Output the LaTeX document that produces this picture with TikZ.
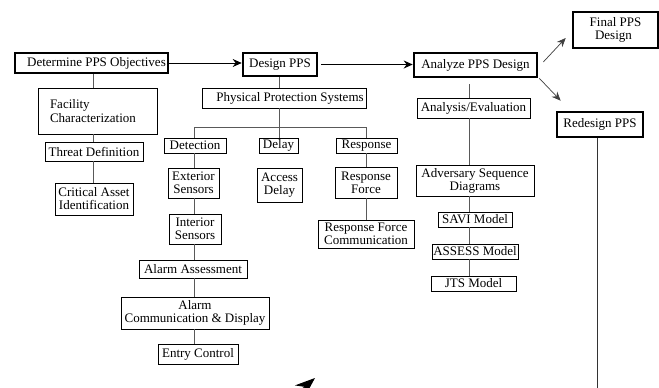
\documentclass[tikz,border=0pt]{standalone}
\usepackage{fontspec}
\setmainfont{Liberation Serif}
\usetikzlibrary{arrows.meta}
\begin{document}
\begin{tikzpicture}[x=1pt,y=-1pt,
  box/.style={draw=black, line width=0.8pt, inner sep=1pt, align=center,
    font=\fontsize{13}{13}\selectfont, anchor=center},
  bigbox/.style={box, line width=2.6pt},
  conn/.style={draw=black!65, line width=0.9pt},
  arr/.style={draw=black, line width=0.9pt, -{Stealth[length=9pt,width=8pt]}},
  darr/.style={draw=black!75, line width=0.7pt, -{Stealth[length=9pt,width=7.5pt]}}]
\clip (0,0) rectangle (659,388);
\fill[white] (0,0) rectangle (659,388);

% main row
\node[bigbox, minimum width=153, minimum height=20] (det) at (91.5,63) {\hspace*{10pt}Determine PPS Objectives};
\node[bigbox, minimum width=74, minimum height=23] (des) at (280,64.5) {Design PPS};
\node[bigbox, minimum width=123, minimum height=24] (ana) at (475.5,65) {Analyze PPS Design};
\node[bigbox, minimum width=85, minimum height=36] (fin) at (615.5,30) {Final PPS\\Design\hspace*{4pt}};
\node[bigbox, minimum width=86, minimum height=25] (red) at (600,124.5) {Redesign PPS};

% left column
\node[box, align=left, text width=95pt, inner xsep=12pt, minimum height=46] (fac) at (97.5,111) {Facility\\[1pt]Characterization};
\node[box, minimum width=98, minimum height=19] (thr) at (94,151.5) {Threat Definition};
\node[box, minimum width=78, minimum height=32] (cri) at (94,199) {Critical Asset\\Identification};

% design column
\node[box, minimum width=164, minimum height=20] (pps) at (284,98) {\hspace*{12pt}Physical Protection Systems};
\node[box, minimum width=62, minimum height=15] (detc) at (195,145.5) {Detection};
\node[box, minimum width=39, minimum height=15] (dly) at (278.5,145.5) {Delay};
\node[box, minimum width=61, minimum height=15] (rsp) at (366.5,145.5) {Response};
\node[box, minimum width=51, minimum height=30] (ext) at (193.5,183) {Exterior\\Sensors};
\node[box, minimum width=45, minimum height=34] (acc) at (279.5,185) {Access\\Delay};
\node[box, minimum width=62, minimum height=31] (rf) at (366,182.5) {Response\\Force};
\node[box, minimum width=96, minimum height=28] (rfc) at (366,234) {Response Force\\Communication};
\node[box, minimum width=52, minimum height=30] (int) at (195,229) {Interior\\Sensors};
\node[box, minimum width=108, minimum height=18] (ala) at (193,269) {Alarm Assessment};
\node[box, minimum width=148, minimum height=32] (acd) at (195,313) {Alarm\\Communication \& Display};
\node[box, minimum width=80, minimum height=20] (ent) at (198,354) {Entry Control};

% analysis column
\node[box, minimum width=113, minimum height=20] (anl) at (473.5,108) {Analysis/Evaluation};
\node[box, minimum width=118, minimum height=31] (adv) at (475,180.5) {Adversary Sequence\\Diagrams};
\node[box, minimum width=74, minimum height=15] (savi) at (475,219.5) {SAVI Model};
\node[box, minimum width=86, minimum height=15] (ass) at (475,251.5) {ASSESS Model};
\node[box, minimum width=85, minimum height=15] (jts) at (473.5,283.5) {JTS Model};

% connector x positions
\coordinate (cl) at (93,0);
\coordinate (cd) at (194,0);
\coordinate (cp) at (279,0);
\coordinate (cr) at (366,0);
\coordinate (ca) at (469,0);
\coordinate (bus) at (0,127);
\coordinate (redend) at (597,392);
\coordinate (tailA) at (285,404);
\coordinate (tipA) at (315,378);

% left column connectors
\draw[conn] (det.south -| cl) -- (fac.north -| cl);
\draw[conn] (fac.south -| cl) -- (thr.north -| cl);
\draw[conn] (thr.south -| cl) -- (cri.north -| cl);

% design connectors
\draw[conn] (des.south -| cp) -- (pps.north -| cp);
\draw[conn] (pps.south -| cp) -- (dly.north -| cp);
\draw[conn] (detc.north -| cd) -- (cd |- bus) -- (cr |- bus) -- (rsp.north -| cr);
\draw[conn] (detc.south -| cd) -- (ext.north -| cd);
\draw[conn] (ext.south -| cd) -- (int.north -| cd);
\draw[conn] (int.south -| cd) -- (ala.north -| cd);
\draw[conn] (ala.south -| cd) -- (acd.north -| cd);
\draw[conn] (acd.south -| cd) -- (ent.north -| cd);
\draw[conn] (rsp.south -| cr) -- (rf.north -| cr);
\draw[conn] (rf.south -| cr) -- (rfc.north -| cr);

% analysis connectors
\draw[conn] ([yshift=-6pt]ana.south -| ca) -- (anl.north -| ca);
\draw[conn] (anl.south -| ca) -- (adv.north -| ca);
\draw[conn] (adv.south -| ca) -- (savi.north -| ca);
\draw[conn] (savi.south -| ca) -- (ass.north -| ca);
\draw[conn] (ass.south -| ca) -- (jts.north -| ca);

% main arrows
\draw[arr] (det.east) -- (des.west |- det.east);
\draw[arr] ([xshift=3pt]des.east) -- (ana.west |- des.east);
\draw[darr] ([xshift=5pt,yshift=3pt]ana.east) -- ([xshift=-6pt,yshift=-8pt]fin.west);
\draw[darr] ([xshift=1pt,yshift=0pt]ana.south east) -- ([xshift=5pt,yshift=10pt]red.north west);
\draw[conn, draw=black!80] (red.south -| redend) -- (redend);
\draw[draw=black, line width=1pt, -{Stealth[length=20pt,width=15pt]}] (tailA) -- (tipA);
\end{tikzpicture}
\end{document}
